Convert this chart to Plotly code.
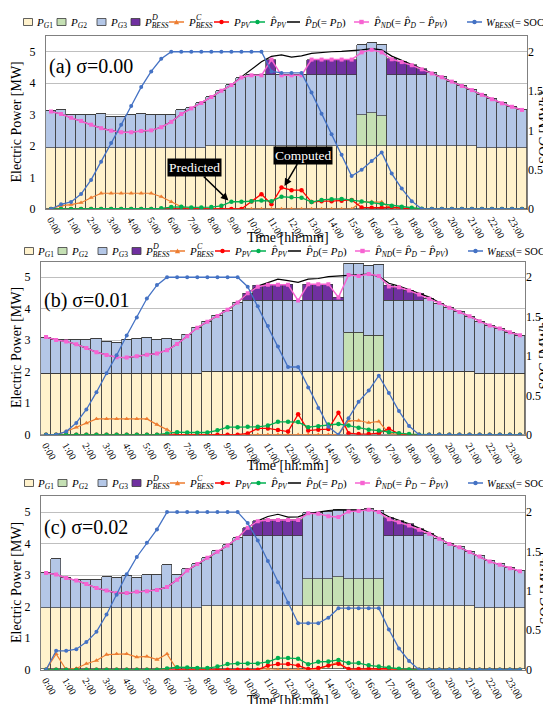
import plotly.graph_objects as go

W, H = 551, 704
FONT = "Liberation Serif, Times New Roman, serif"

times = ["0:00","0:30","1:00","1:30","2:00","2:30","3:00","3:30","4:00","4:30","5:00","5:30",
         "6:00","6:30","7:00","7:30","8:00","8:30","9:00","9:30","10:00","10:30","11:00","11:30",
         "12:00","12:30","13:00","13:30","14:00","14:30","15:00","15:30","16:00","16:30","17:00","17:30",
         "18:00","18:30","19:00","19:30","20:00","20:30","21:00","21:30","22:00","22:30","23:00","23:30"]
hour_ticks = ["0:00","1:00","2:00","3:00","4:00","5:00","6:00","7:00","8:00","9:00","10:00","11:00",
              "12:00","13:00","14:00","15:00","16:00","17:00","18:00","19:00","20:00","21:00","22:00","23:00"]
mw_ticks = [0, 1, 2, 3, 4, 5]
soc_ticks = [0, 0.5, 1, 1.5, 2]
soc_tick_text = ["0", "0.5", "1", "1.5", "2"]

# ---------------- panel (a) sigma = 0.00 ----------------
a_G1 = [1.95,1.95,1.95,1.95,1.95,1.95,1.95,1.95,1.95,1.95,1.95,1.95,
        1.95,1.95,1.95,1.95,2.0,2.0,2.0,2.0,2.0,2.0,2.0,2.0,
        2.0,2.0,2.0,2.0,2.0,2.0,2.0,2.0,2.0,2.0,2.0,2.0,
        2.0,2.0,2.0,2.0,2.0,2.0,2.0,1.95,1.95,1.95,1.95,1.95]
a_G2 = [0,0,0,0,0,0,0,0,0,0,0,0,
        0,0,0,0,0,0,0,0,0,0,0,0,
        0,0,0,0,0,0,0,1.0,1.05,0.95,0,0,
        0,0,0,0,0,0,0,0,0,0,0,0]
a_G3 = [1.15,1.19,1.05,1.05,1.05,1.08,0.98,0.98,1.03,1.07,1.05,1.05,
        1.05,1.20,1.25,1.42,1.56,1.76,1.94,2.18,2.25,2.25,2.25,2.25,
        2.25,2.25,2.25,2.25,2.25,2.25,2.25,2.21,2.24,2.25,2.25,2.25,
        2.25,2.25,2.31,2.19,2.05,1.91,1.78,1.68,1.54,1.41,1.30,1.20]
a_BD = [0,0,0,0,0,0,0,0,0,0,0,0,
        0,0,0,0,0,0,0,0,0,0,0.5,0,
        0,0,0.5,0.5,0.5,0.5,0.5,0,0,0,0.51,0.42,
        0.32,0.19,0,0,0,0,0,0,0,0,0,0]
a_BC = [0,0.11,0.14,0.2,0.36,0.5,0.5,0.5,0.5,0.5,0.5,0.39,
        0.23,0.07,0,0,0,0,0,0,0,0,0,0,
        0,0,0,0,0,0,0,0.23,0.23,0.22,0,0,
        0,0,0,0,0,0,0,0,0,0,0,0]
a_PV = [0,0,0,0,0,0,0,0,0,0,0,0,
        0,0,0,0,0,0,0,0,0.24,0.47,0.15,0.68,
        0.6,0.6,0.22,0.25,0.25,0.26,0.29,0.05,0.04,0.04,0.06,0.02,
        0,0,0,0,0,0,0,0,0,0,0,0]
a_PVhat = [0,0,0,0,0,0,0,0,0,0,0,0.02,
           0.06,0.07,0.05,0.05,0.06,0.1,0.23,0.23,0.25,0.27,0.25,0.39,
           0.37,0.36,0.22,0.29,0.31,0.32,0.28,0.24,0.2,0.16,0.1,0.07,
           0.04,0.01,0,0,0,0,0,0,0,0,0,0]
a_D = [3.1,3.02,2.9,2.8,2.68,2.57,2.49,2.44,2.44,2.48,2.5,2.6,
       2.77,3.02,3.2,3.37,3.56,3.76,3.94,4.2,4.45,4.68,4.85,4.9,
       4.83,4.87,4.95,4.98,5.0,5.01,5.03,5.06,5.1,5.06,4.86,4.73,
       4.6,4.46,4.32,4.19,4.05,3.91,3.78,3.63,3.49,3.36,3.25,3.15]
a_ND = [3.1,3.02,2.9,2.8,2.68,2.57,2.49,2.44,2.44,2.48,2.5,2.6,
        2.77,3.02,3.2,3.37,3.56,3.76,3.94,4.18,4.25,4.25,4.75,4.25,
        4.25,4.25,4.75,4.75,4.75,4.75,4.75,4.98,5.06,4.98,4.76,4.67,
        4.57,4.44,4.31,4.19,4.05,3.91,3.78,3.63,3.49,3.36,3.25,3.15]
a_SOC = [0,0.06,0.09,0.19,0.37,0.6,0.84,1.07,1.31,1.55,1.75,1.91,
         2.0,2.0,2.0,2.0,2.0,2.0,2.0,2.0,2.0,2.0,1.75,1.73,
         1.73,1.73,1.48,1.21,0.95,0.69,0.42,0.5,0.61,0.72,0.45,0.26,
         0.1,0,0,0,0,0,0,0,0,0,0,0]

# ---------------- panel (b) sigma = 0.01 ----------------
b_G1 = [1.95,1.95,1.95,1.95,1.95,1.95,1.95,1.95,1.95,1.95,1.95,1.95,
        1.95,1.95,1.95,1.95,2.0,2.0,2.0,2.0,2.0,2.0,2.0,2.0,
        2.0,2.0,2.0,2.0,2.0,2.0,2.0,2.0,2.0,2.0,2.0,2.0,
        2.0,2.0,2.0,2.0,2.0,2.0,2.0,1.95,1.95,1.95,1.95,1.95]
b_G2 = [0,0,0,0,0,0,0,0,0,0,0,0,
        0,0,0,0,0,0,0,0,0,0,0,0,
        0,0,0,0,0,0,1.23,1.23,1.14,1.16,0,0,
        0,0,0,0,0,0,0,0,0,0,0,0]
b_G3 = [1.15,1.06,1.06,1.06,1.06,1.12,1.01,0.99,1.06,1.09,1.14,1.06,
        1.12,1.06,1.24,1.45,1.59,1.77,1.96,2.2,2.26,2.26,2.26,2.26,
        2.26,2.26,2.26,2.26,2.26,2.26,2.22,2.22,2.24,2.26,2.27,2.27,
        2.27,2.27,2.34,2.18,2.03,1.9,1.76,1.65,1.52,1.42,1.3,1.21]
b_BD = [0,0,0,0,0,0,0,0,0,0,0,0,
        0,0,0,0,0,0,0,0,0.23,0.48,0.5,0.5,
        0.5,0,0.5,0.5,0.5,0.1,0,0,0,0,0.47,0.42,
        0.32,0.2,0,0,0,0,0,0,0,0,0,0]
b_BC = [0,0,0.1,0.23,0.37,0.5,0.5,0.5,0.5,0.5,0.5,0.32,
        0.16,0,0,0,0,0,0,0,0,0,0,0,
        0,0,0,0,0,0,0.44,0.45,0.38,0.42,0.04,0,
        0,0,0,0,0,0,0,0,0,0,0,0]
b_PV = [0,0,0,0,0,0,0,0,0,0,0,0,
        0,0,0,0,0,0,0,0,0.04,0.2,0.2,0.15,
        0.1,0.65,0.13,0.16,0.18,0.7,0.05,0.02,0.02,0.05,0.19,0.03,
        0,0,0,0,0,0,0,0,0,0,0,0]
b_PVhat = [0,0,0,0,0,0,0,0,0,0,0,0,
           0.04,0.08,0.07,0.06,0.07,0.14,0.24,0.24,0.25,0.25,0.29,0.41,
           0.41,0.4,0.24,0.27,0.32,0.34,0.29,0.22,0.16,0.13,0.08,0.05,
           0.02,0,0,0,0,0,0,0,0,0,0,0]
b_D = [3.1,3.01,2.96,2.87,2.75,2.62,2.53,2.46,2.45,2.49,2.54,2.58,
       2.68,2.88,3.13,3.4,3.59,3.77,3.97,4.2,4.49,4.72,4.83,4.94,
       4.89,4.84,4.94,4.96,5.02,5.04,5.07,5.1,5.1,5.03,4.81,4.72,
       4.61,4.5,4.37,4.2,4.03,3.9,3.76,3.6,3.47,3.37,3.25,3.16]
b_ND = [3.1,3.01,2.96,2.87,2.75,2.62,2.53,2.46,2.45,2.49,2.54,2.58,
        2.68,2.88,3.13,3.4,3.59,3.77,3.97,4.2,4.49,4.7,4.76,4.76,
        4.76,4.26,4.78,4.78,4.78,4.36,5.07,5.04,5.1,5.04,4.71,4.68,
        4.58,4.45,4.32,4.18,4.03,3.9,3.76,3.6,3.47,3.37,3.25,3.16]
b_SOC = [0,0,0.04,0.15,0.32,0.54,0.78,1.01,1.26,1.49,1.73,1.9,
         2.0,2.0,2.0,2.0,2.0,2.0,2.0,2.0,1.88,1.63,1.38,1.12,
         0.86,0.86,0.6,0.34,0.1,0,0.21,0.42,0.56,0.75,0.53,0.3,
         0.11,0,0,0,0,0,0,0,0,0,0,0]

# ---------------- panel (c) sigma = 0.02 ----------------
c_G1 = [1.95,1.95,1.95,1.95,1.95,1.95,1.95,1.95,1.95,1.95,1.95,1.95,
        1.95,1.95,1.95,1.95,2.0,2.0,2.0,2.0,2.0,2.0,2.0,2.0,
        2.0,2.0,2.0,2.0,2.0,2.0,2.0,2.0,2.0,2.0,2.0,2.0,
        2.0,2.0,2.0,2.0,2.0,2.0,2.0,1.95,1.95,1.95,1.95,1.95]
c_G2 = [0,0,0,0,0,0,0,0,0,0,0,0,
        0,0,0,0,0,0,0,0,0,0,0,0,
        0,0,0.86,0.86,0.86,0.92,0.86,0.86,0.86,0.86,0,0,
        0,0,0,0,0,0,0,0,0,0,0,0]
c_G3 = [1.12,1.56,0.96,0.88,0.88,0.88,0.99,0.96,1.01,0.96,1.04,1.04,
        1.36,1.04,1.22,1.4,1.54,1.74,1.95,2.18,2.24,2.24,2.24,2.24,
        2.24,2.24,2.1,2.1,2.14,2.15,2.19,2.19,2.22,2.17,2.24,2.24,
        2.24,2.24,2.31,2.15,1.99,1.88,1.73,1.64,1.48,1.38,1.27,1.17]
c_BD = [0,0,0,0,0,0,0,0,0,0,0,0,
        0,0,0,0,0,0,0,0,0.26,0.47,0.49,0.49,
        0.49,0.49,0,0,0,0,0,0,0,0,0.55,0.46,
        0.36,0.21,0,0,0,0,0,0,0,0,0,0]
c_BC = [0,0.5,0,0.04,0.19,0.29,0.48,0.5,0.5,0.4,0.42,0.32,
        0.5,0,0,0,0,0,0,0,0,0,0.03,0,
        0,0,0,0,0.14,0.24,0,0,0,0,0,0,
        0,0,0,0,0,0,0,0,0,0,0,0]
c_PV = [0,0,0,0,0,0,0,0,0,0,0,0,
        0,0,0,0,0,0,0,0,0,0,0.13,0.18,
        0.18,0.13,0.02,0.05,0.13,0.19,0.02,0.02,0.02,0.02,0.03,0,
        0,0,0,0,0,0,0,0,0,0,0,0]
c_PVhat = [0,0,0,0,0,0,0,0,0,0,0,0,
           0.04,0.08,0.07,0.05,0.05,0.1,0.18,0.2,0.2,0.2,0.25,0.37,
           0.37,0.35,0.17,0.25,0.26,0.31,0.21,0.21,0.14,0.1,0.07,0.03,
           0.01,0,0,0,0,0,0,0,0,0,0,0]
c_D = [3.07,3.02,2.91,2.83,2.72,2.59,2.51,2.43,2.43,2.47,2.49,2.53,
       2.62,2.85,3.15,3.35,3.55,3.74,3.94,4.18,4.5,4.72,4.86,4.93,
       4.84,4.85,4.96,5.0,5.05,5.07,5.05,5.05,5.07,5.02,4.85,4.75,
       4.63,4.49,4.35,4.17,3.99,3.88,3.73,3.59,3.43,3.33,3.22,3.12]
c_ND = [3.07,3.02,2.91,2.83,2.72,2.59,2.51,2.43,2.43,2.47,2.49,2.53,
        2.62,2.85,3.15,3.35,3.55,3.74,3.94,4.18,4.5,4.71,4.75,4.75,
        4.75,4.75,4.96,4.95,4.87,4.84,5.02,5.03,5.07,5.0,4.77,4.68,
        4.57,4.44,4.31,4.15,3.99,3.88,3.73,3.59,3.43,3.33,3.22,3.12]
c_SOC = [0,0.24,0.24,0.26,0.35,0.48,0.7,0.95,1.21,1.43,1.61,1.78,
         2.0,2.0,2.0,2.0,2.0,2.0,2.0,2.0,1.86,1.64,1.38,1.11,
         0.85,0.59,0.59,0.59,0.66,0.78,0.78,0.78,0.78,0.78,0.51,0.27,
         0.11,0,0,0,0,0,0,0,0,0,0,0]

COL = dict(G1="#FFF2CC", G2="#C5E0B4", G3="#B4C7E7", BD="#7030A0",
           BC="#ED7D31", PV="#FF0000", PVhat="#00B050", D="#000000",
           ND="#F763D2", SOC="#4472C4")

panels = [
    dict(G1=a_G1, G2=a_G2, G3=a_G3, BD=a_BD, BC=a_BC, PV=a_PV, PVhat=a_PVhat, D=a_D, ND=a_ND, SOC=a_SOC,
         label="(a) σ=0.00", xpx=(38, 519), ypx=(28, 201), label_y=58, leg_y=14, leg_dx=0, title_y=230),
    dict(G1=b_G1, G2=b_G2, G3=b_G3, BD=b_BD, BC=b_BC, PV=b_PV, PVhat=b_PVhat, D=b_D, ND=b_ND, SOC=b_SOC,
         label="(b) σ=0.01", xpx=(33, 517), ypx=(253.5, 426.7), label_y=292, leg_y=243, leg_dx=1, title_y=458),
    dict(G1=c_G1, G2=c_G2, G3=c_G3, BD=c_BD, BC=c_BC, PV=c_PV, PVhat=c_PVhat, D=c_D, ND=c_ND, SOC=c_SOC,
         label="(c) σ=0.02", xpx=(33, 517), ypx=(488.3, 661.7), label_y=519, leg_y=475, leg_dx=1, title_y=692),
]


def fx(px):
    return px / W


def fy(py):
    return 1 - py / H


SUB_PX = 7.5


def sub(t, italic=True):
    inner = "<i>" + t + "</i>" if italic else t
    return "<sub><span style='font-size:" + str(SUB_PX) + "px'>" + inner + "</span></sub>"


fig = go.Figure()
layout = dict(width=W, height=H, margin=dict(l=0, r=0, t=0, b=0), autosize=False,
              paper_bgcolor="white", plot_bgcolor="white", showlegend=False,
              barmode="stack", bargap=0, hovermode=False,
              font=dict(family=FONT, color="black"))
annotations = []
shapes = []

line_specs = [("BC", "triangle-up", 4.5, 1.2), ("PV", "circle", 4.5, 1.3),
              ("PVhat", "circle", 4.5, 1.3), ("D", None, 0, 1.2),
              ("ND", "square", 4, 1.5)]

LEG_FS = 11

for k, p in enumerate(panels):
    n = k + 1
    xa = "x" if n == 1 else f"x{n}"
    ya = "y" if n == 1 else f"y{n}"
    ys = f"y{n + 3}"
    for key in ["G1", "G2", "G3", "BD"]:
        fig.add_trace(go.Bar(x=times, y=p[key], xaxis=xa, yaxis=ya,
                             marker=dict(color=COL[key], line=dict(color="#3a3a3a", width=0.7))))
    for key, sym, size, lw in line_specs:
        if sym is None:
            fig.add_trace(go.Scatter(x=times, y=p[key], xaxis=xa, yaxis=ya, mode="lines",
                                     line=dict(color=COL[key], width=lw)))
        else:
            fig.add_trace(go.Scatter(x=times, y=p[key], xaxis=xa, yaxis=ya, mode="lines+markers",
                                     line=dict(color=COL[key], width=lw),
                                     marker=dict(symbol=sym, size=size, color=COL[key])))
    fig.add_trace(go.Scatter(x=times, y=p["SOC"], xaxis=xa, yaxis=ys, mode="lines+markers",
                             line=dict(color=COL["SOC"], width=1.3),
                             marker=dict(symbol="circle", size=4, color=COL["SOC"])))

    xdom = [fx(p["xpx"][0]), fx(p["xpx"][1])]
    ydom = [fy(p["ypx"][1]), fy(p["ypx"][0])]
    xname = "xaxis" if n == 1 else f"xaxis{n}"
    yname = "yaxis" if n == 1 else f"yaxis{n}"
    layout[xname] = dict(domain=xdom, anchor=ya, type="category", categoryorder="array",
                         categoryarray=times, tickmode="array", tickvals=hour_ticks, ticktext=hour_ticks,
                         tickangle=60, tickfont=dict(size=10, family=FONT), range=[-0.5, 47.5],
                         showline=True, mirror=True, linecolor="#808080", linewidth=1,
                         showgrid=False, ticks="", automargin=False, fixedrange=True)
    layout[yname] = dict(domain=ydom, anchor=xa, range=[0, 5.5], tickmode="array", tickvals=mw_ticks,
                         tickfont=dict(size=12, family=FONT), showgrid=True, gridcolor="#BFBFBF",
                         gridwidth=1, showline=True, mirror=True, linecolor="#808080", linewidth=1,
                         zeroline=False, ticks="", ticklabelstandoff=7, automargin=False)
    layout[f"yaxis{n + 3}"] = dict(overlaying=ya, anchor=xa, side="right", range=[0, 2.2],
                                   tickmode="array", tickvals=soc_ticks, ticktext=soc_tick_text,
                                   tickfont=dict(size=12, family=FONT), showgrid=False, showline=False,
                                   zeroline=False, ticks="", automargin=False)

    yc = (p["ypx"][0] + p["ypx"][1]) / 2
    annotations.append(dict(text=p["label"], x=fx(p["xpx"][0] + 1), y=fy(p["label_y"]),
                            xref="paper", yref="paper", xanchor="left", yanchor="middle", showarrow=False,
                            font=dict(size=20, family=FONT)))
    annotations.append(dict(text="Electric Power [MW]", x=fx(8), y=fy(yc), xref="paper", yref="paper",
                            xanchor="center", yanchor="middle",
                            textangle=-90, showarrow=False, font=dict(size=14, family=FONT)))
    annotations.append(dict(text="SOC [MWh]", x=fx(536.5), y=fy(yc + 5), xref="paper", yref="paper",
                            xanchor="center", yanchor="middle",
                            textangle=-90, showarrow=False, font=dict(size=14, family=FONT)))
    annotations.append(dict(text="Time [hh:mm]", x=fx(280), y=fy(p["title_y"]), xref="paper", yref="paper",
                            xanchor="center", yanchor="middle",
                            showarrow=False, font=dict(size=14, family=FONT)))

    # ---- custom legend row ----
    ly = p["leg_y"]
    dx = p["leg_dx"]
    boxes = [(15.5, 26, "G1", "<i>P</i>" + sub("G") + sub("1", False), None),
             (49, 59.5, "G2", "<i>P</i>" + sub("G") + sub("2", False), None),
             (89, 99.5, "G3", "<i>P</i>" + sub("G") + sub("3", False), None),
             (123, 133.5, "BD", "<i>P</i>" + sub("BESS"), "D")]
    for bx, tx, key, txt, sup in boxes:
        shapes.append(dict(type="rect", xref="paper", yref="paper", x0=fx(bx + dx), x1=fx(bx + dx + 9),
                           y0=fy(ly + 3.5), y1=fy(ly - 3.5), fillcolor=COL[key],
                           line=dict(color="#3a3a3a", width=0.8)))
        annotations.append(dict(text=txt, x=fx(tx + dx), y=fy(ly + 1), xref="paper", yref="paper",
                                xanchor="left", yanchor="middle", showarrow=False,
                                font=dict(size=LEG_FS, family=FONT)))
        if sup:
            annotations.append(dict(text="<i>" + sup + "</i>", x=fx(tx + dx + 7.5), y=fy(ly - 5),
                                    xref="paper", yref="paper", xanchor="left", yanchor="middle",
                                    showarrow=False, font=dict(size=8, family=FONT)))
    lines = [(161, 176, 178, "BC", "tri", "<i>P</i>" + sub("BESS"), "C", LEG_FS),
             (206, 221, 223, "PV", "circ", "<i>P</i>" + sub("PV"), None, LEG_FS),
             (242, 257, 259, "PVhat", "circ", "<i>P\u0302</i>" + sub("PV"), None, LEG_FS),
             (279, 292, 294, "D", None, "<i>P\u0302</i>" + sub("D") + "(= <i>P</i>" + sub("D") + ")", None, LEG_FS),
             (346, 361, 363, "ND", "sq", "<i>P\u0302</i>" + sub("ND") + "(= <i>P\u0302</i>" + sub("D")
              + " \u2212 <i>P\u0302</i>" + sub("PV") + ")", None, LEG_FS),
             (459, 474, 476, "SOC", "circ", "<i>W</i>" + sub("BESS") + "(= SOC)", None, 10.5)]
    for x0, x1, tx, key, mk, txt, sup, fs in lines:
        shapes.append(dict(type="line", xref="paper", yref="paper", x0=fx(x0 + dx), x1=fx(x1 + dx),
                           y0=fy(ly), y1=fy(ly), line=dict(color=COL[key], width=1.5)))
        cx = (x0 + x1) / 2 + dx
        r = 2.2
        if mk == "circ":
            shapes.append(dict(type="circle", xref="paper", yref="paper", x0=fx(cx - r), x1=fx(cx + r),
                               y0=fy(ly + r), y1=fy(ly - r), fillcolor=COL[key], line=dict(width=0)))
        elif mk == "sq":
            shapes.append(dict(type="rect", xref="paper", yref="paper", x0=fx(cx - r), x1=fx(cx + r),
                               y0=fy(ly + r), y1=fy(ly - r), fillcolor=COL[key], line=dict(width=0)))
        elif mk == "tri":
            path = (f"M {fx(cx - 2.6)} {fy(ly + 2.2)} L {fx(cx + 2.6)} {fy(ly + 2.2)} "
                    f"L {fx(cx)} {fy(ly - 2.6)} Z")
            shapes.append(dict(type="path", xref="paper", yref="paper", path=path,
                               fillcolor=COL[key], line=dict(width=0)))
        annotations.append(dict(text=txt, x=fx(tx + dx), y=fy(ly + 1), xref="paper", yref="paper",
                                xanchor="left", yanchor="middle", showarrow=False,
                                font=dict(size=fs, family=FONT)))
        if sup:
            annotations.append(dict(text="<i>" + sup + "</i>", x=fx(tx + dx + 7.5), y=fy(ly - 5),
                                    xref="paper", yref="paper", xanchor="left", yanchor="middle",
                                    showarrow=False, font=dict(size=8, family=FONT)))

# callouts in panel (a)
annotations.append(dict(text="Predicted", x=17.7, y=0.27, xref="x", yref="y", ax=-34, ay=-33,
                        axref="pixel", ayref="pixel", showarrow=True, arrowhead=2, arrowsize=1,
                        arrowwidth=1.5, arrowcolor="black", bgcolor="black", borderpad=1,
                        xanchor="center", yanchor="middle",
                        font=dict(size=13.5, family=FONT, color="white")))
annotations.append(dict(text="Computed", x=23.3, y=0.73, xref="x", yref="y", ax=18, ay=-31,
                        axref="pixel", ayref="pixel", showarrow=True, arrowhead=2, arrowsize=1,
                        arrowwidth=1.5, arrowcolor="black", bgcolor="black", borderpad=1,
                        xanchor="center", yanchor="middle",
                        font=dict(size=13.5, family=FONT, color="white")))

layout["annotations"] = annotations
layout["shapes"] = shapes
fig.update_layout(**layout)
fig.update_traces(hoverinfo="skip")
fig.write_html("out.html")
